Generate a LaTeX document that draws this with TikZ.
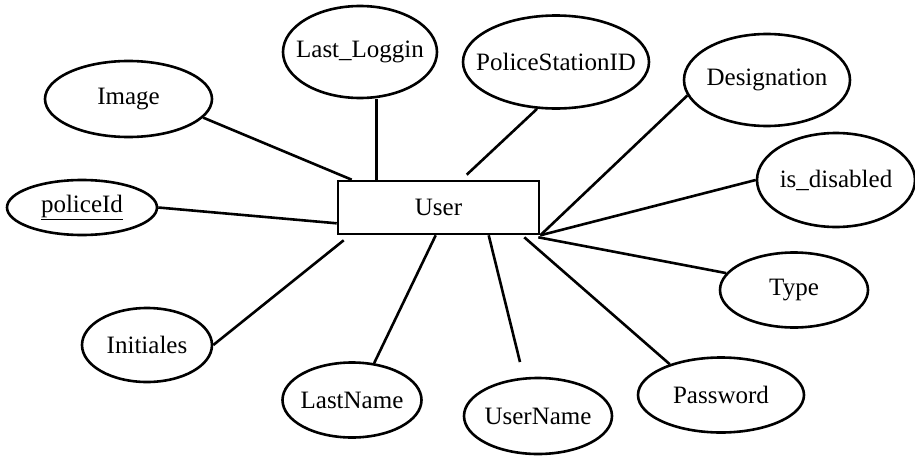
\documentclass[tikz,border=0pt]{standalone}
\usepackage{fontspec}
\setmainfont{Liberation Serif}
\usetikzlibrary{shapes.geometric}
\newcommand\ctrtxt[1]{\makebox[0pt][c]{#1}}
\tikzset{
  attr/.style={draw, ellipse, line width=2.6pt, inner sep=0pt, font=\fontsize{25}{30}\selectfont},
  entity/.style={draw, rectangle, line width=2.6pt, inner sep=0pt, minimum width=201pt, minimum height=53pt, font=\fontsize{25}{30}\selectfont},
  link/.style={line width=2.6pt}
}
\begin{document}
\begin{tikzpicture}[x=1pt,y=-1pt]
\useasboundingbox[fill=white] (0,0) rectangle (915,455);
\node[entity] (user) at (438.5,207.5) {User};
\node[attr, minimum width=167pt, minimum height=76pt] (img) at (128.5,99) {\ctrtxt{Image}};
\node[attr, minimum width=154pt, minimum height=92pt] (ll) at (360,52) {\ctrtxt{Last\_Loggin}};
\node[attr, minimum width=186pt, minimum height=93pt] (ps) at (556,62) {\ctrtxt{PoliceStationID}};
\node[attr, minimum width=166pt, minimum height=92pt] (ds) at (767,80) {\ctrtxt{Designation}};
\node[attr, minimum width=158pt, minimum height=94pt] (isd) at (836,180) {\ctrtxt{is\_disabled}};
\node[attr, minimum width=150pt, minimum height=55pt] (pid) at (82,207.5) {\ctrtxt{\underline{policeId}}};
\node[attr, minimum width=148pt, minimum height=75pt] (ty) at (794,290) {\ctrtxt{Type}};
\node[attr, minimum width=130pt, minimum height=74pt] (ini) at (147,345) {\ctrtxt{Initiales}};
\node[attr, minimum width=139pt, minimum height=75pt] (ln) at (352,400) {\ctrtxt{LastName}};
\node[attr, minimum width=148pt, minimum height=76pt] (un) at (538,416) {\ctrtxt{UserName}};
\node[attr, minimum width=166pt, minimum height=75pt] (pw) at (721,395) {\ctrtxt{Password}};
\coordinate (uImg) at ([xshift=15pt]user.north west);
\coordinate (uLL) at ([xshift=40pt]user.north west);
\coordinate (uPS) at ([xshift=130pt,yshift=5pt]user.north west);
\coordinate (uPid) at ([yshift=12pt]user.south west);
\coordinate (uIni) at ([xshift=7pt,yshift=-5pt]user.south west);
\coordinate (uLN) at ([xshift=99pt]user.south west);
\coordinate (uUN) at ([xshift=152pt]user.south west);
\coordinate (uPW) at ([xshift=-16pt,yshift=-2pt]user.south east);
\coordinate (uTY) at ([xshift=-2pt,yshift=-2pt]user.south east);
\coordinate (uSE) at (user.south east);
\coordinate (unEnd) at (520,362);
\draw[link] (uImg) -- (img.-14);
\draw[link] (uLL) -- (uLL |- ll.south);
\draw[link] (uPS) -- (ps.248);
\draw[link] (uSE) -- (ds.191);
\draw[link] (uSE) -- (isd.west);
\draw[link] (uTY) -- (ty.166);
\draw[link] (uPW) -- (pw.149);
\draw[link] (uUN) -- (unEnd);
\draw[link] (uLN) -- (ln.59);
\draw[link] (uIni) -- (ini.east);
\draw[link] (uPid) -- (pid.east);
\end{tikzpicture}
\end{document}
